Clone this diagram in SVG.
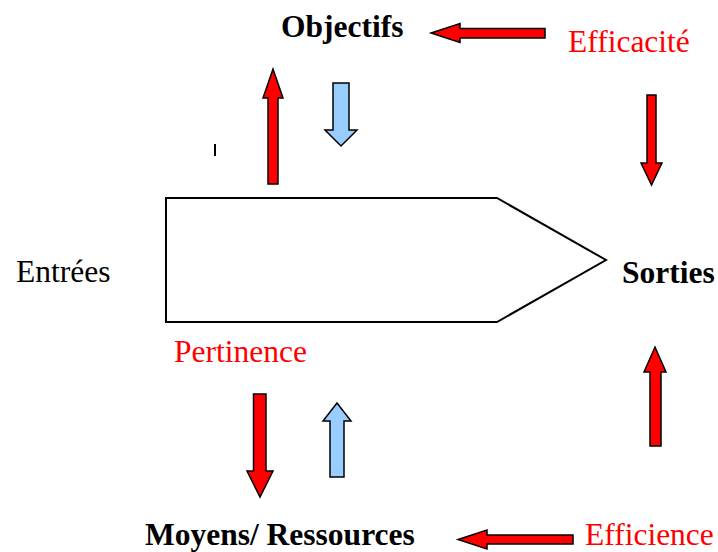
<svg xmlns="http://www.w3.org/2000/svg" width="718" height="552" viewBox="0 0 718 552">
<style>
text{font-family:"Liberation Serif","Times New Roman",serif;font-size:31.5px}
.b{font-weight:bold;fill:#000}
.r{fill:#ff0000}
.k{fill:#000}
.ar{fill:#ff0000;stroke:#000;stroke-width:1.5;stroke-linejoin:miter}
.ab{fill:#99ccff;stroke:#000;stroke-width:1.5;stroke-linejoin:miter}
</style>
<rect width="718" height="552" fill="#fff"/>
<g id="process">
<polygon points="166,198 497,198 606,260 497,322 166,322" fill="#fff" stroke="#000" stroke-width="2"/>
</g>
<g id="objectifs"><text class="b" x="281" y="37">Objectifs</text></g>
<g id="efficacite"><text class="r" x="568" y="52">Efficacité</text></g>
<g id="entrees"><text class="k" x="16" y="282">Entrées</text></g>
<g id="sorties"><text class="b" x="622" y="283">Sorties</text></g>
<g id="pertinence"><text class="r" x="174" y="362">Pertinence</text></g>
<g id="moyens"><text class="b" x="145" y="544.5">Moyens/ Ressources</text></g>
<g id="efficience"><text class="r" x="585" y="545">Efficience</text></g>
<g id="tick"><rect x="214" y="144" width="2" height="12" fill="#000"/></g>
<g id="connectors">
<polygon class="ar" points="545,28.5 460,28.5 460,23.5 431,33 460,42.5 460,38 545,38"/>
<polygon class="ar" points="268,184 268,98 263,98 273,69 283,98 278,98 278,184"/>
<polygon class="ab" points="333,83 349,83 349,130 357,130 341,146 325,130 333,130"/>
<polygon class="ar" points="647,95 656,95 656,163 662,163 651.5,185 641,163 647,163"/>
<polygon class="ar" points="253.5,394 266,394 266,471 273,471 260,497 247,471 253.5,471"/>
<polygon class="ab" points="330,477 344,477 344,421 351,421 337,403 323,421 330,421"/>
<polygon class="ar" points="650,446 661,446 661,372 666,372 655,347 644,372 650,372"/>
<polygon class="ar" points="573,535 487,535 487,530 458,539.5 487,549 487,544 573,544"/>
</g>
</svg>
